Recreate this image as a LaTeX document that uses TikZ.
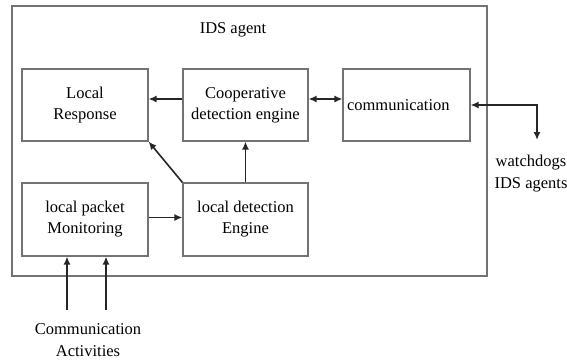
\documentclass[tikz,border=0pt]{standalone}
\usepackage{fontspec}
\setmainfont{Liberation Serif}
\usetikzlibrary{arrows.meta}
\begin{document}
\begin{tikzpicture}[x=1pt,y=-1pt,
  box/.style={draw=black!55,line width=1.1pt,minimum width=126pt,minimum height=72pt,align=center,inner sep=3pt,font=\fontsize{16.5}{21}\selectfont},
  lbl/.style={align=center,font=\fontsize{16.5}{22}\selectfont},
  arr/.style={line width=1.6pt,draw=black!85,-{Latex[length=8pt,width=7pt]}},
  darr/.style={line width=1.6pt,draw=black!85,{Latex[length=8pt,width=7pt]}-{Latex[length=8pt,width=7pt]}}]
\useasboundingbox (0,0) rectangle (567,360);
\fill[white] (0,0) rectangle (567,360);
\node[draw=black!55,line width=1.1pt,minimum width=475pt,minimum height=270pt,inner sep=0pt] (agent) at (249.5,141) {};
\node[lbl] (title) at (233,30) {IDS agent};
\node[box] (lr) at (85,105) {Local\\Response};
\node[box,minimum width=125pt] (coop) at (245.5,105) {Cooperative\\detection engine};
\node[box,minimum width=127pt,text width=119pt,align=left,inner sep=4pt] (comm) at (406.5,105) {communication};
\node[box,minimum height=73pt] (lpm) at (85,219.5) {local packet\\Monitoring};
\node[box,minimum width=125pt,minimum height=73pt] (lde) at (245.5,219.5) {local detection\\Engine};
\node[lbl] (wd) at (531,174) {watchdogs\\IDS agents};
\node[lbl] (ca) at (88,340) {Communication\\Activities};
\coordinate (wdtip) at (537,140);
\coordinate (a1) at (67,310);
\coordinate (a2) at (106,310);
\draw[arr] ([yshift=6pt]coop.west) -- ([yshift=6pt]lr.east);
\draw[darr] ([yshift=6pt]coop.east) -- ([yshift=6pt]comm.west);
\draw[darr] (comm.east) -| (wdtip);
\draw[arr] (lde.north) -- (coop.south);
\draw[arr] (lde.north west) -- (lr.south east);
\draw[arr] ([yshift=2pt]lpm.east) -- ([yshift=2pt]lde.west);
\draw[arr] (a1) -- (a1 |- lpm.south);
\draw[arr] (a2) -- (a2 |- lpm.south);
\end{tikzpicture}
\end{document}
